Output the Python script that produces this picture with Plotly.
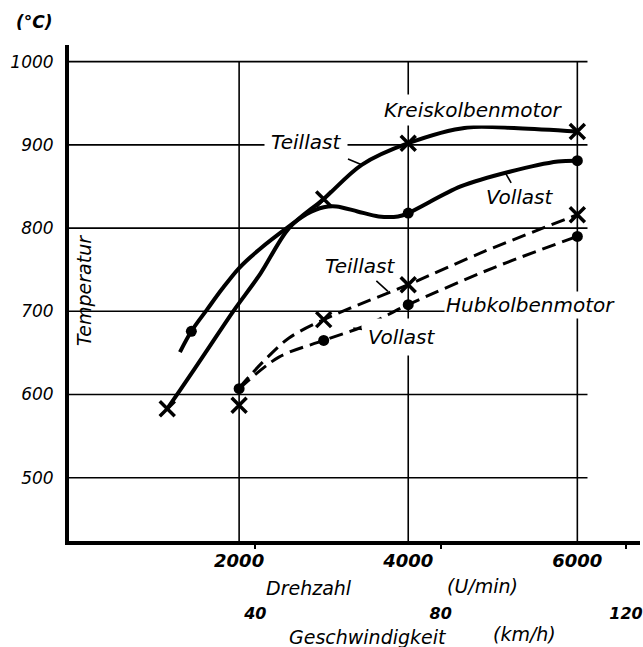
import plotly.graph_objects as go

# ---------------- data ----------------
temp_ticks = [500, 600, 700, 800, 900, 1000]          # °C
rpm_ticks = [2000, 4000, 6000]                         # U/min
speed_ticks = [40, 80, 120]                            # km/h
RPM_PER_KMH = 54.8                                     # scale of the speed axis

# Kreiskolbenmotor, Teillast (solid, x markers)
kk_teil_rpm = [1150, 1300, 1600, 1930, 2250, 2590, 3000, 3450, 4000, 4700, 5300, 6000]
kk_teil_temp = [583, 605, 650, 700, 745, 800, 835, 876, 902, 921, 920, 916]
kk_teil_mark_rpm = [1150, 3000, 4000, 6000]
kk_teil_mark_temp = [583, 835, 902, 916]

# Kreiskolbenmotor, Vollast (solid, dot markers)
kk_voll_rpm = [1300, 1435, 1620, 1800, 2000, 2235, 2590, 2800, 3000, 3150, 3400, 3650, 3880, 4000, 4620, 5210, 5770, 6000]
kk_voll_temp = [651, 676, 702, 727, 752, 774, 802, 817, 825, 826, 820, 814, 814, 818, 850, 868, 880, 881]
kk_voll_mark_rpm = [1435, 4000, 6000]
kk_voll_mark_temp = [676, 818, 881]

# Hubkolbenmotor, Teillast (dashed, x markers)
hk_teil_rpm = [2000, 2270, 2590, 3000, 3320, 4000, 4900, 6000]
hk_teil_temp = [608, 638, 668, 690, 704, 732, 772, 816]
hk_teil_mark_rpm = [2000, 3000, 4000, 6000]
hk_teil_mark_temp = [587, 690, 732, 816]

# Hubkolbenmotor, Vollast (dashed, dot markers)
hk_voll_rpm = [2000, 2470, 3000, 3500, 4000, 5000, 6000]
hk_voll_temp = [607, 645, 665, 683, 708, 752, 790]
hk_voll_mark_rpm = [2000, 3000, 4000, 6000]
hk_voll_mark_temp = [607, 665, 708, 790]

# ---------------- layout constants ----------------
W, H = 643, 647
M = dict(l=69, r=0, t=45, b=106)
X_RANGE = [-12, 6741]
Y_RANGE = [424, 1020]
GRID_X_END = 6120
GRID_Y_END = 1000
FONT = "DejaVu Sans"


def px_to_paper(px, py):
    return (px - M["l"]) / (W - M["l"] - M["r"]), (H - M["b"] - py) / (H - M["t"] - M["b"])


def f(size, bold=False):
    return dict(family=FONT, size=size, color="black", style="italic",
                weight="bold" if bold else "normal")


fig = go.Figure()

solid = dict(color="black", width=4, shape="spline", smoothing=0.9)
dashed = dict(color="black", width=3, dash="14px,7px", shape="spline", smoothing=0.9)
xmark = dict(symbol="x-thin", size=15, color="black", line=dict(color="black", width=3.5))
dmark = dict(symbol="circle", size=11, color="black")

for xs, ys, ln in [(kk_teil_rpm, kk_teil_temp, solid), (kk_voll_rpm, kk_voll_temp, solid),
                   (hk_teil_rpm, hk_teil_temp, dashed), (hk_voll_rpm, hk_voll_temp, dashed)]:
    fig.add_trace(go.Scatter(x=xs, y=ys, mode="lines", line=ln, hoverinfo="skip"))

for xs, ys, mk in [(kk_teil_mark_rpm, kk_teil_mark_temp, xmark), (kk_voll_mark_rpm, kk_voll_mark_temp, dmark),
                   (hk_teil_mark_rpm, hk_teil_mark_temp, xmark), (hk_voll_mark_rpm, hk_voll_mark_temp, dmark)]:
    fig.add_trace(go.Scatter(x=xs, y=ys, mode="markers", marker=mk, hoverinfo="skip"))

# invisible trace so the speed axis is drawn
fig.add_trace(go.Scatter(x=speed_ticks, y=[Y_RANGE[0]] * len(speed_ticks), xaxis="x2",
                         mode="markers", marker=dict(opacity=0), hoverinfo="skip"))

# grid lines from the tick arrays
shapes = []
for t in temp_ticks:
    shapes.append(dict(type="line", xref="x", yref="y", x0=X_RANGE[0], x1=GRID_X_END, y0=t, y1=t,
                       line=dict(color="black", width=1.6), layer="below"))
for r in rpm_ticks:
    shapes.append(dict(type="line", xref="x", yref="y", x0=r, x1=r, y0=Y_RANGE[0], y1=GRID_Y_END,
                       line=dict(color="black", width=1.6), layer="below"))

annotations = []
SX = (W - M["l"] - M["r"]) / (X_RANGE[1] - X_RANGE[0])
SY = (H - M["t"] - M["b"]) / (Y_RANGE[1] - Y_RANGE[0])


def label(text, x, y, bg=False, pad=2, arrow=None):
    a = dict(text=text, xref="x", yref="y", font=f(20), showarrow=False,
             bgcolor="white" if bg else None, borderpad=pad)
    if arrow is None:
        a.update(x=x, y=y)
    else:
        ax_rpm, ax_t = arrow
        a.update(x=ax_rpm, y=ax_t, showarrow=True, arrowhead=0, arrowwidth=1.6, arrowcolor="black",
                 ax=(x - ax_rpm) * SX, ay=-(y - ax_t) * SY, standoff=0)
    annotations.append(a)


label("Kreiskolbenmotor", 4765, 942, bg=True, pad=3)
label("Teillast", 2800, 904, bg=True, pad=6, arrow=(3450, 876))
label("Vollast", 5318, 837, arrow=(5150, 866))
label("Teillast", 3435, 754, arrow=(3760, 724))
label("Hubkolbenmotor", 5447, 708, bg=True, pad=1)
label("Vollast", 3929, 669, bg=True, pad=6, arrow=(3350, 680))


def ptext(text, px, py, size, angle=0, bold=False):
    x, y = px_to_paper(px, py)
    annotations.append(dict(text=text, xref="paper", yref="paper", x=x, y=y, showarrow=False,
                            font=f(size, bold), textangle=angle, xanchor="center", yanchor="middle"))


ptext("(°C)", 34, 22, 17, bold=True)
ptext("Temperatur", 84, 290, 19, angle=-90)
ptext("Drehzahl", 310, 588, 19)
ptext("(U/min)", 485, 586, 19)
ptext("Geschwindigkeit", 370, 637, 19)
ptext("(km/h)", 527, 634, 19)

fig.update_layout(
    width=W, height=H, margin=M,
    paper_bgcolor="white", plot_bgcolor="white",
    showlegend=False,
    shapes=shapes, annotations=annotations,
    xaxis=dict(range=X_RANGE, showgrid=False, zeroline=False, showline=True, linewidth=4,
               linecolor="black", tickvals=rpm_ticks, ticktext=[str(v) for v in rpm_ticks],
               ticks="", tickfont=f(18, bold=True), ticklabelstandoff=0,
               ticklabeloverflow="allow"),
    xaxis2=dict(range=[v / RPM_PER_KMH for v in X_RANGE], overlaying="x", anchor="y", side="bottom",
                showgrid=False, zeroline=False, showline=False, tickvals=speed_ticks,
                ticktext=[str(v) for v in speed_ticks], ticks="outside", ticklen=7, tickwidth=2,
                tickcolor="black", tickfont=f(16, bold=True), ticklabelstandoff=51,
                ticklabeloverflow="allow"),
    yaxis=dict(range=Y_RANGE, showgrid=False, zeroline=False, showline=True, linewidth=4,
               linecolor="black", tickvals=temp_ticks, ticktext=[str(v) for v in temp_ticks],
               ticks="", tickfont=f(17), ticklabelstandoff=8),
)

fig.write_html("out.html", config={"displayModeBar": False},
               post_script="document.body.style.margin='0';document.body.style.overflow='hidden';")
